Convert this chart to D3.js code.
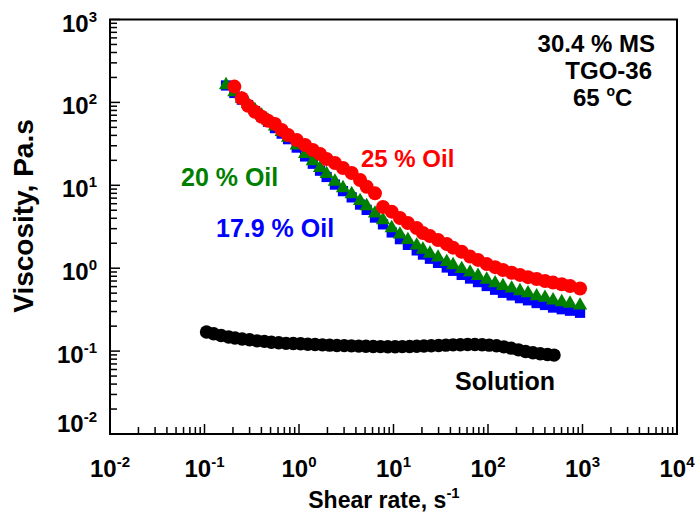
<!DOCTYPE html>
<html>
<head>
<meta charset="utf-8">
<script src="https://cdn.jsdelivr.net/npm/d3@7"></script>
<style>
  body { margin: 0; background: #fff; }
  text { font-family: "Liberation Sans", Arial, sans-serif; font-weight: bold; }
</style>
</head>
<body>
<svg id="chart" width="699" height="525"></svg>
<script>
// shear rate grid (s^-1), 17.9 % and 20 % oil start one step earlier than 25 %
var xRate = [0.169, 0.207, 0.248, 0.289, 0.342, 0.403, 0.47, 0.557, 0.656, 0.766, 0.946,
    1.16, 1.40, 1.67, 1.96, 2.40, 2.92, 3.61, 4.43, 5.20, 6.37, 7.74, 9.57, 11.7, 14.2,
    17.6, 20.5, 24.3, 29.6, 36.6, 42.7, 52.7, 64.6, 78.4, 96.9, 119, 144, 178, 218, 265,
    327, 401, 488, 603, 738, 942];
var visc179 = [160, 130, 108, 93, 78.5, 67, 58.5, 49, 42, 36, 28.5, 22.3, 18.2, 15.0, 12.6,
    10.2, 8.5, 7.15, 5.85, 5.05, 4.08, 3.38, 2.70, 2.24, 1.91, 1.64, 1.46, 1.30, 1.16, 1.02,
    0.93, 0.83, 0.75, 0.68, 0.61, 0.55, 0.505, 0.47, 0.435, 0.41, 0.38, 0.36, 0.335, 0.32,
    0.307, 0.29];
var visc20 = [162, 133, 111, 95.7, 80.9, 69.5, 60.5, 51.2, 44.0, 37.7, 30.2, 23.9, 19.6, 16.2,
    13.7, 11.1, 9.27, 7.85, 6.47, 5.62, 4.57, 3.81, 3.05, 2.55, 2.19, 1.88, 1.68, 1.50, 1.35,
    1.19, 1.09, 0.98, 0.89, 0.81, 0.73, 0.66, 0.61, 0.57, 0.53, 0.50, 0.46, 0.44, 0.41, 0.39,
    0.375, 0.355];
var visc25 = [155, 112, 91, 77, 67, 60, 55, 46.5, 40.4, 35.2, 30.6, 26.7, 23.9, 20.8, 18.6,
    16.2, 14.1, 11.6, 9.6, 8.0, 5.47, 4.81, 4.03, 3.51, 3.05, 2.66, 2.44, 2.19, 1.96, 1.77,
    1.58, 1.38, 1.26, 1.12, 1.03, 0.95, 0.88, 0.83, 0.78, 0.74, 0.70, 0.67, 0.64, 0.61, 0.57];

var xSol = [0.105, 0.125, 0.15, 0.18, 0.21, 0.25, 0.30, 0.36, 0.43, 0.51, 0.61, 0.73, 0.87,
    1.04, 1.24, 1.48, 1.77, 2.11, 2.52, 3.01, 3.59, 4.28, 5.11, 6.10, 7.28, 8.69, 10.4, 12.4,
    14.8, 17.6, 21.0, 25.1, 30.0, 35.8, 42.7, 51.0, 60.8, 72.6, 86.6, 103, 123, 147, 176, 210,
    250, 299, 357, 426, 500];
var viscSol = [0.170, 0.162, 0.154, 0.148, 0.144, 0.140, 0.137, 0.133, 0.131, 0.128, 0.126,
    0.124, 0.1236, 0.1225, 0.121, 0.120, 0.119, 0.118, 0.117, 0.1165, 0.1156, 0.1149, 0.1142,
    0.1136, 0.1133, 0.113, 0.113, 0.1133, 0.1136, 0.1142, 0.115, 0.116, 0.117, 0.118, 0.119,
    0.1195, 0.120, 0.120, 0.1195, 0.118, 0.116, 0.1125, 0.1085, 0.1035, 0.099, 0.0956, 0.093,
    0.091, 0.0895];

var xDecades = [-2, -1, 0, 1, 2, 3, 4];
var yDecades = [-2, -1, 0, 1, 2, 3];

var svg = d3.select("#chart");
var plotL = 110, plotR = 677, plotT = 19.5, plotB = 434;

var x = d3.scaleLog().domain([1e-2, 1e4]).range([plotL, plotR]);
var y = d3.scaleLog().domain([1e-2, 1e3]).range([plotB, plotT]);

// ticks (inward, left and bottom only)
var g = svg.append("g").attr("stroke", "#000").attr("stroke-width", 1.5);
x.ticks().forEach(function(t) {
    var major = Math.abs(Math.log10(t) - Math.round(Math.log10(t))) < 1e-9;
    g.append("line").attr("x1", x(t)).attr("x2", x(t))
        .attr("y1", plotB).attr("y2", plotB - (major ? 10 : 7));
});
y.ticks().forEach(function(t) {
    var major = Math.abs(Math.log10(t) - Math.round(Math.log10(t))) < 1e-9;
    g.append("line").attr("y1", y(t)).attr("y2", y(t))
        .attr("x1", plotL).attr("x2", plotL + (major ? 10 : 7));
});

svg.append("rect").attr("x", plotL).attr("y", plotT)
    .attr("width", plotR - plotL).attr("height", plotB - plotT)
    .attr("fill", "none").attr("stroke", "#000").attr("stroke-width", 2);

// tick labels
xDecades.forEach(function(d) {
    var t = svg.append("text").attr("x", x(Math.pow(10, d))).attr("y", 477)
        .attr("text-anchor", "middle").attr("font-size", 24);
    t.append("tspan").text("10");
    t.append("tspan").attr("font-size", 15).attr("dy", -10).text(d);
});
yDecades.forEach(function(d) {
    var yy = y(Math.pow(10, d)) + (d == -2 ? -2 : 12);
    var t = svg.append("text").attr("x", 97).attr("y", yy)
        .attr("text-anchor", "end").attr("font-size", 24);
    t.append("tspan").text("10");
    t.append("tspan").attr("font-size", 15).attr("dy", -10).text(d);
});

// axis titles
var xt = svg.append("text").attr("x", 384).attr("y", 508)
    .attr("text-anchor", "middle").attr("font-size", 23);
xt.append("tspan").text("Shear rate, s");
xt.append("tspan").attr("font-size", 15).attr("dy", -10).text("-1");

svg.append("text").attr("transform", "translate(33,216) rotate(-90)")
    .attr("text-anchor", "middle").attr("font-size", 28).text("Viscosity, Pa.s");

// series
var sq = d3.symbol().type(d3.symbolSquare).size(105);
var tri = d3.symbol().type(d3.symbolTriangle).size(88);

svg.append("g").selectAll("path").data(visc179).join("path")
    .attr("d", sq)
    .attr("transform", function(v, i) { return "translate(" + x(xRate[i]) + "," + y(v) + ")"; })
    .attr("fill", "#0000ff");

svg.append("g").selectAll("path").data(visc20).join("path")
    .attr("d", tri)
    .attr("transform", function(v, i) { return "translate(" + x(xRate[i]) + "," + y(v) + ")"; })
    .attr("fill", "#008000");

svg.append("g").selectAll("circle").data(visc25).join("circle")
    .attr("cx", function(v, i) { return x(xRate[i + 1]); })
    .attr("cy", function(v) { return y(v); })
    .attr("r", 7).attr("fill", "#ff0000");

svg.append("g").selectAll("circle").data(viscSol).join("circle")
    .attr("cx", function(v, i) { return x(xSol[i]); })
    .attr("cy", function(v) { return y(v); })
    .attr("r", 6.7).attr("fill", "#000");

// labels
svg.append("text").attr("x", 361).attr("y", 167).attr("font-size", 24)
    .attr("fill", "#ff0000").text("25 % Oil");
svg.append("text").attr("x", 181).attr("y", 186).attr("font-size", 25)
    .attr("fill", "#008000").text("20 % Oil");
svg.append("text").attr("x", 216).attr("y", 237).attr("font-size", 25)
    .attr("fill", "#0000ff").text("17.9 % Oil");
svg.append("text").attr("x", 455).attr("y", 390).attr("font-size", 25)
    .text("Solution");

svg.append("text").attr("x", 655).attr("y", 52).attr("text-anchor", "end")
    .attr("font-size", 24).text("30.4 % MS");
svg.append("text").attr("x", 652).attr("y", 79).attr("text-anchor", "end")
    .attr("font-size", 24).text("TGO-36");
var deg = svg.append("text").attr("x", 573).attr("y", 106).attr("font-size", 24);
deg.append("tspan").text("65 ");
deg.append("tspan").attr("font-size", 14).attr("dy", -10).text("o");
deg.append("tspan").attr("dy", 10).text("C");
</script>
</body>
</html>
